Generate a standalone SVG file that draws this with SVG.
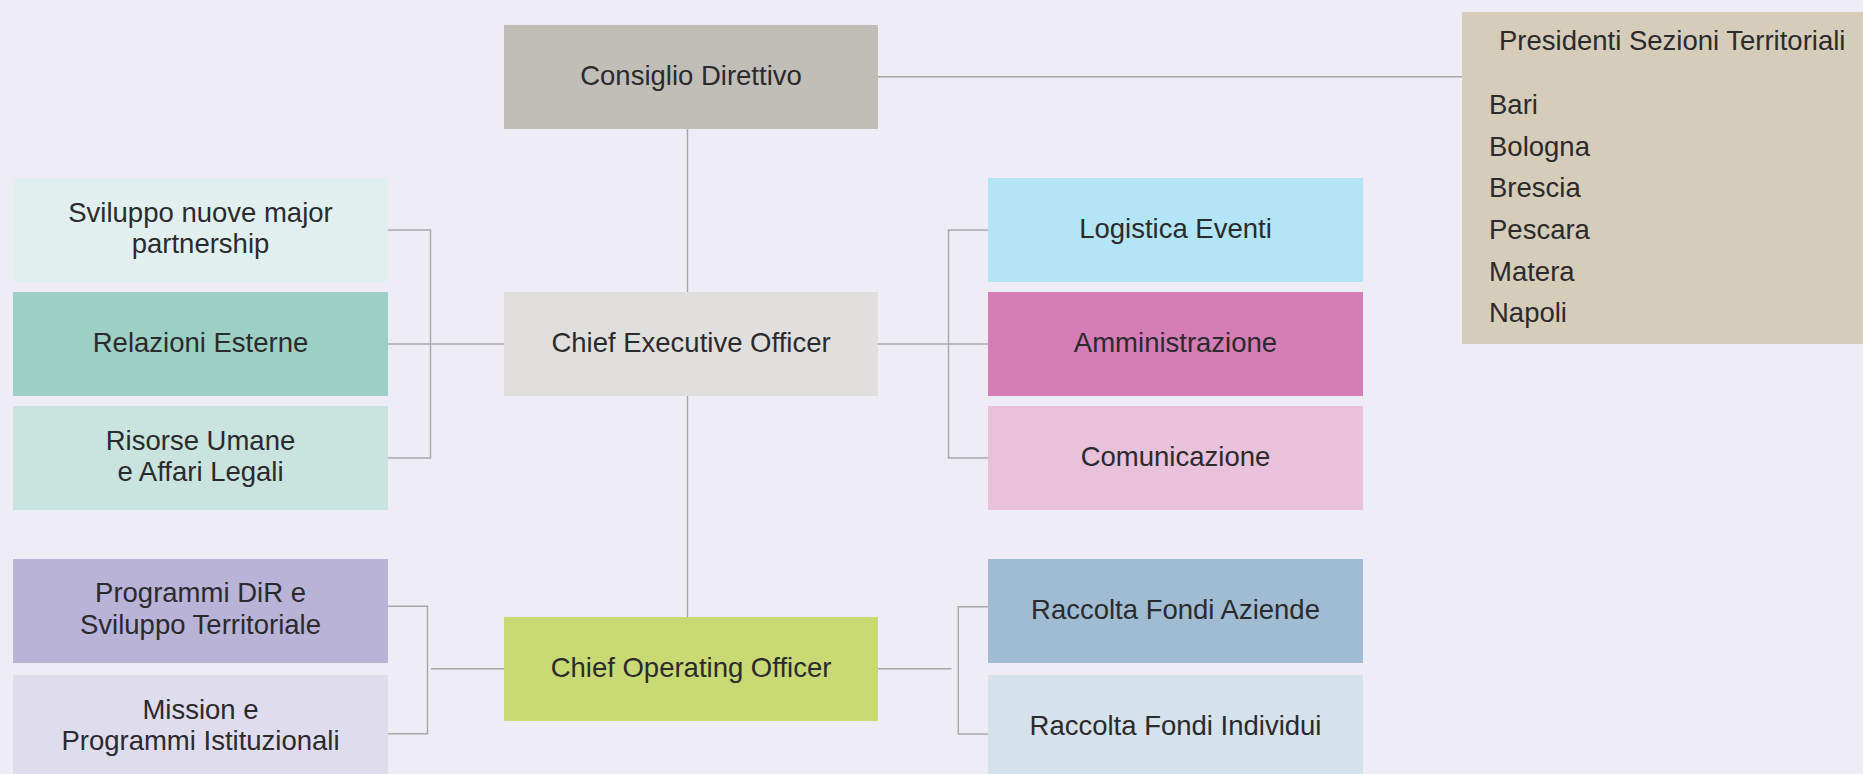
<svg xmlns="http://www.w3.org/2000/svg" width="1863" height="774" viewBox="0 0 1863 774">
<style>
text{font-family:"Liberation Sans",Arial,sans-serif;font-size:27.5px;fill:#2b2a2c}
.c{text-anchor:middle}
.ln{fill:none;stroke:#a9a6a6;stroke-width:1.4}
</style>
<rect width="1863" height="774" fill="#eeecf5"/>
<g id="connectors">
<path class="ln" d="M872 76.7H1462"/>
<path class="ln" d="M687.5 129V292M687.5 396V617"/>
<path class="ln" d="M388 230H430.5V458H388M388 344H504"/>
<path class="ln" d="M988 230H948.5V458H988M878 344H988"/>
<path class="ln" d="M388 606.3H427.5V733.7H388M431 668.7H504"/>
<path class="ln" d="M988 606.7H958.3V734H988M878 668.7H951.5"/>
</g>
<g id="consiglio"><rect x="504" y="25" width="374" height="104" fill="#c1beb8"/><text class="c" x="691" y="85">Consiglio Direttivo</text></g>
<g id="ceo"><rect x="504" y="292" width="374" height="104" fill="#e0dfdd"/><text class="c" x="691" y="352">Chief Executive Officer</text></g>
<g id="coo"><rect x="504" y="617" width="374" height="104" fill="#c9d973"/><text class="c" x="691" y="677">Chief Operating Officer</text></g>
<g id="sviluppo"><rect x="13" y="178" width="375" height="104" fill="#e1f0ee"/><text class="c" x="200.5" y="221.5">Sviluppo nuove major</text><text class="c" x="200.5" y="253">partnership</text></g>
<g id="relazioni"><rect x="13" y="292" width="375" height="104" fill="#9dd0c4"/><text class="c" x="200.5" y="352">Relazioni Esterne</text></g>
<g id="risorse"><rect x="13" y="406" width="375" height="104" fill="#c9e4df"/><text class="c" x="200.5" y="450">Risorse Umane</text><text class="c" x="200.5" y="481">e Affari Legali</text></g>
<g id="programmi"><rect x="13" y="559" width="375" height="104" fill="#b9b3d8"/><text class="c" x="200.5" y="602">Programmi DiR e</text><text class="c" x="200.5" y="634">Sviluppo Territoriale</text></g>
<g id="mission"><rect x="13" y="675" width="375" height="104" fill="#dfdced"/><text class="c" x="200.5" y="718.5">Mission e</text><text class="c" x="200.5" y="750">Programmi Istituzionali</text></g>
<g id="logistica"><rect x="988" y="178" width="375" height="104" fill="#b3e5f6"/><text class="c" x="1175.5" y="238">Logistica Eventi</text></g>
<g id="amministrazione"><rect x="988" y="292" width="375" height="104" fill="#d47db6"/><text class="c" x="1175.5" y="352">Amministrazione</text></g>
<g id="comunicazione"><rect x="988" y="406" width="375" height="104" fill="#e9c1db"/><text class="c" x="1175.5" y="466">Comunicazione</text></g>
<g id="aziende"><rect x="988" y="559" width="375" height="104" fill="#9fbcd2"/><text class="c" x="1175.5" y="619">Raccolta Fondi Aziende</text></g>
<g id="individui"><rect x="988" y="675" width="375" height="104" fill="#d5e1eb"/><text class="c" x="1175.5" y="735">Raccolta Fondi Individui</text></g>
<g id="presidenti"><rect x="1462" y="12" width="401" height="332" fill="#d6ccba"/>
<text x="1499" y="49.5">Presidenti Sezioni Territoriali</text>
<text x="1489" y="113.5">Bari</text>
<text x="1489" y="155.5">Bologna</text>
<text x="1489" y="197.3">Brescia</text>
<text x="1489" y="239">Pescara</text>
<text x="1489" y="280.7">Matera</text>
<text x="1489" y="322.3">Napoli</text>
</g>
</svg>
